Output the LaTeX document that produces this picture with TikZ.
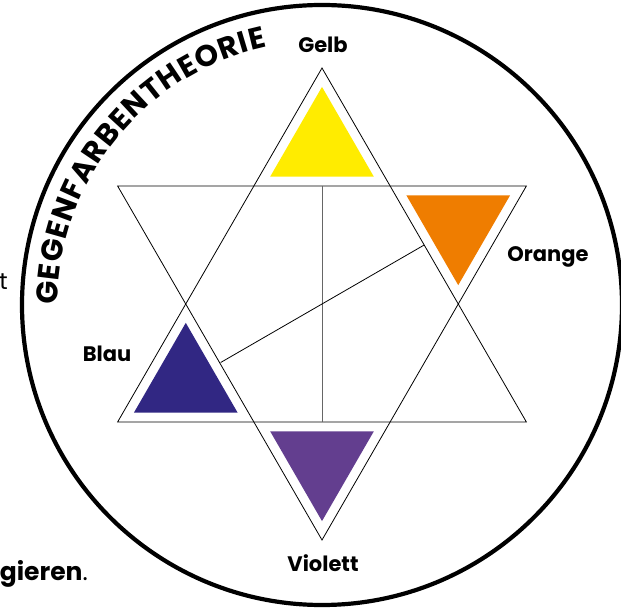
\documentclass[tikz,border=0pt]{standalone}
\usepackage{fontspec}
\setmainfont{Poppins}
\usetikzlibrary{calc,decorations.text}
\definecolor{gelbc}{HTML}{FFEC00}
\definecolor{orangec}{HTML}{EF7D00}
\definecolor{blauc}{HTML}{312783}
\definecolor{violettc}{HTML}{633E8F}
\definecolor{midgray}{HTML}{666666}
\newcommand{\arcfnt}{\bfseries\fontsize{30}{30}\selectfont}
\begin{document}
\begin{tikzpicture}[x=1pt,y=1pt,
  starline/.style={line width=0.8pt, line join=miter},
  axisline/.style={line width=0.8pt},
  lbl/.style={font=\bfseries\fontsize{21}{21}\selectfont, anchor=base, inner sep=0pt},
  pagetext/.style={font=\fontsize{23}{23}\selectfont, anchor=base east, inner sep=0pt}]
\clip (0,0) rectangle (621,608);
\fill[white] (0,0) rectangle (621,608);
\coordinate (C) at (322,303);
\coordinate (O) at (322,304);
\def\R{236}
% outer circle
\draw[line width=4.2pt] (C) circle[radius=300];
% star
\coordinate (U1) at ($(O)+(90:\R)$);
\coordinate (U2) at ($(O)+(210:\R)$);
\coordinate (U3) at ($(O)+(330:\R)$);
\coordinate (D1) at ($(O)+(270:\R)$);
\coordinate (D2) at ($(O)+(30:\R)$);
\coordinate (D3) at ($(O)+(150:\R)$);
% coloured triangles
\foreach \a/\c/\n in {90/gelbc/ye, 30/orangec/or, 210/blauc/bl, 270/violettc/vi}{
  \coordinate (\n c) at ($(O)+(\a:157.3)$);
  \fill[\c] ($(\n c)+(\a:59.8)$) -- ($(\n c)+(\a+120:59.8)$) -- ($(\n c)+(\a-120:59.8)$) -- cycle;
}
\draw[starline] (U1) -- (U2) -- (U3) -- cycle;
\draw[starline] (D1) -- (D2) -- (D3) -- cycle;
% inner axes
\coordinate (vt) at ($(O)+(90:118)$);
\coordinate (vb) at ($(O)+(270:118)$);
\coordinate (dl) at ($(O)+(210:117)$);
\coordinate (dr) at ($(O)+(30:118)$);
\draw[axisline, midgray] (vt) -- (vb);
\draw[axisline] (dl) -- (dr);
% labels
\node[lbl] (gelb) at (323,555) {Gelb};
\node[lbl] (orange) at (548,346) {Orange};
\node[lbl] (blau) at (107,246) {Blau};
\node[lbl] (violett) at (323,37) {Violett};
% curved title
\path[decorate, decoration={text along path, text format delimiters={|}{|},
  text={|\arcfnt|GEGENFARBENTHEORIE}, text align=fit to path}]
  ($(C)+(180:264)$) arc[start angle=180, end angle=102, radius=264];
% page text fragments
\node[pagetext] (t1) at (8,318) {t};
\node[pagetext, font=\fontsize{25}{25}\selectfont] (t2) at (88,28) {\textbf{gieren}.};
\end{tikzpicture}
\end{document}
